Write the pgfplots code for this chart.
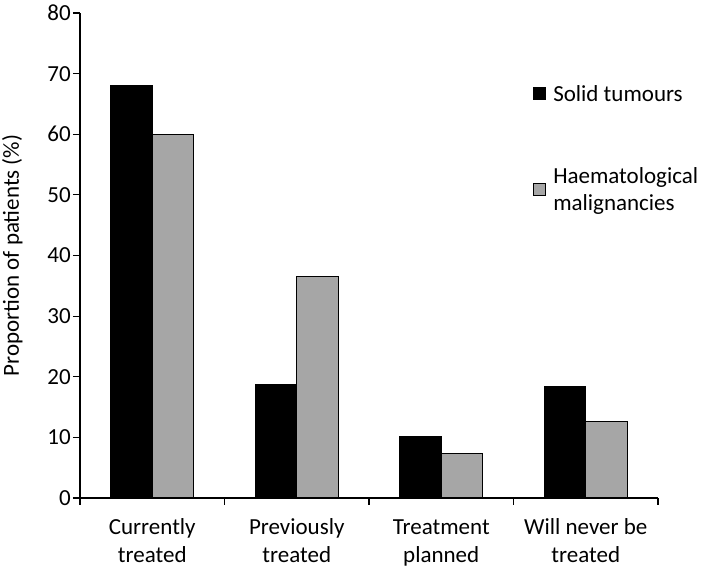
\documentclass[border=0pt]{standalone}
\usepackage{pgfplots}
\pgfplotsset{compat=1.18}
\usepackage{fontspec}
\setmainfont{Carlito}
\definecolor{bargrey}{RGB}{166,166,166}
\begin{document}
\fontsize{23}{28}\selectfont
\begin{tikzpicture}[font=\fontsize{23}{28}\selectfont]
\begin{axis}[
  name=ax,
  scale only axis, width=578pt, height=485pt,
  xmin=-0.5, xmax=3.5, ymin=0, ymax=80,
  ytick={0,10,...,80},
  axis x line=bottom, axis y line=left, axis line style={-, line width=1.2pt},
  xtick align=outside, ytick align=outside, major tick length=7pt,
  /pgf/number format/assume math mode=true,
  ticklabel style={font=\fontsize{23}{28}\selectfont},
  yticklabel style={inner sep=2pt},
  ytick style={draw=black, line width=1.2pt},
  xtick={0,1,2,3},
  xticklabels={{\strut Currently\\treated},{\strut Previously\\treated},{\strut Treatment\\planned},{\strut Will never be\\treated}},
  xticklabel style={align=center, inner sep=0pt, anchor=north, yshift=-10pt},
  xtick style={draw=none},
  extra x ticks={-0.5,0.5,1.5,2.5,3.5},
  extra x tick labels={},
  extra x tick style={xtick style={draw=black, line width=1.2pt}, major tick length=7pt},
  ylabel={Proportion of patients (\%)},
  ylabel style={at={(axis description cs:-0.117,0.5)}, anchor=center, font=\fontsize{23}{28}\selectfont},
  ybar=0pt, bar width=41.5pt,
  legend image code/.code={\draw[#1, draw=black, line width=0.8pt] (0pt,-4pt) rectangle (12pt,8pt); \path (17pt,0pt);},
  legend style={at={(rel axis cs:0.784,0.855)}, anchor=north west, draw=none, fill=none,
    inner sep=0pt, row sep=59pt, font=\fontsize{23}{27}\selectfont,
    cells={anchor=west, align=left}},
  legend cell align=left,
]
\addplot[fill=black, draw=black, line width=1pt] coordinates {(0,68.0) (1,18.8) (2,10.1) (3,18.4)};
\addplot[fill=bargrey, draw=black, line width=1pt] coordinates {(0,59.9) (1,36.5) (2,7.3) (3,12.7)};
\legend{Solid tumours, {Haematological\\malignancies}}
\end{axis}
\pgfresetboundingbox
\path[use as bounding box] (ax.south west) ++(-80pt,-74pt) rectangle ++(709pt,572pt);
\end{tikzpicture}
\end{document}
